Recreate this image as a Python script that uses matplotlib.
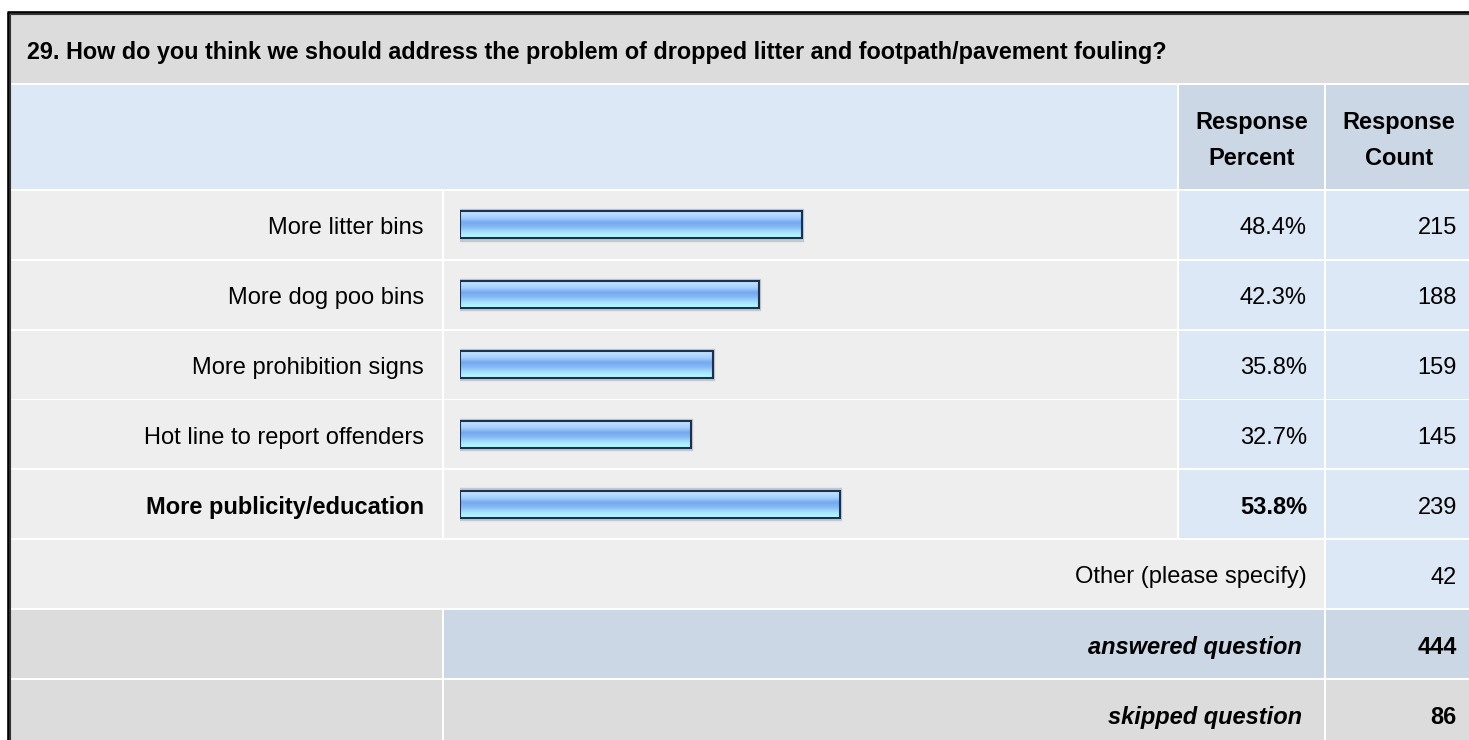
import numpy as np
import matplotlib
matplotlib.use("Agg")
import matplotlib.pyplot as plt
from matplotlib.patches import Rectangle
from matplotlib.colors import LinearSegmentedColormap

# Survey results
question = ("29. How do you think we should address the problem of dropped "
            "litter and footpath/pavement fouling?")
categories = ["More litter bins", "More dog poo bins", "More prohibition signs",
              "Hot line to report offenders", "More publicity/education"]
percents = [48.4, 42.3, 35.8, 32.7, 53.8]
counts = [215, 188, 159, 145, 239]
other_label = "Other (please specify)"
other_count = 42
answered = 444
skipped = 86

W, H = 1469, 740
FONT = "Liberation Sans"
FS = 17
DY = 3.5  # nudges the glyphs onto the row's optical centre

GREY_DARK = "#dcdcdc"
GREY_LIGHT = "#eeeeee"
BLUE_LIGHT = "#dce8f5"
BLUE_MID = "#cbd7e5"

fig = plt.figure(figsize=(W / 100, H / 100), dpi=100)
fig.patch.set_facecolor("white")
ax = fig.add_axes([0, 0, 1, 1])
ax.set_xlim(0, W)
ax.set_ylim(H, 0)
ax.axis("off")


def cell(x0, x1, y0, y1, color):
    ax.add_patch(Rectangle((x0, y0), x1 - x0, y1 - y0, facecolor=color,
                           edgecolor="none", zorder=1))


def txt(x, y, s, ha="right", weight="normal", style="normal", size=FS):
    ax.text(x, y + DY, s, ha=ha, va="center", fontsize=size, family=FONT,
            fontweight=weight, fontstyle=style, color="#000000", zorder=3)


# column boundaries (left edge, right edge of each cell)
X0 = 10
C_LABEL = (X0, 442)
C_BAR = (444, 1177)
C_PCT = (1179, 1324)
C_CNT = (1326, W + 5)

# title
cell(X0, W + 5, 14, 83, GREY_DARK)
txt(27, 48.5, question, ha="left", weight="bold", size=16.8)

# header
cell(X0, C_BAR[1], 85, 189, BLUE_LIGHT)
cell(C_PCT[0], C_PCT[1], 85, 189, BLUE_MID)
cell(C_CNT[0], C_CNT[1], 85, 189, BLUE_MID)
for cx, word in [((C_PCT[0] + C_PCT[1]) / 2, "Percent"),
                 ((C_CNT[0] + 1472) / 2, "Count")]:
    txt(cx, 119, "Response", ha="center", weight="bold")
    txt(cx, 155, word, ha="center", weight="bold")

ROW0 = 191
PITCH = 69.8
RH = 68
best = int(np.argmax(percents))

for i, (cat, p, c) in enumerate(zip(categories, percents, counts)):
    y0 = ROW0 + i * PITCH
    y1 = y0 + RH
    yc = (y0 + y1) / 2
    cell(*C_LABEL, y0, y1, GREY_LIGHT)
    cell(*C_BAR, y0, y1, GREY_LIGHT)
    cell(*C_PCT, y0, y1, BLUE_LIGHT)
    cell(*C_CNT, y0, y1, BLUE_LIGHT)
    w = "bold" if i == best else "normal"
    txt(424, yc, cat, weight=w)
    txt(1307, yc, f"{p:.1f}%", weight=w)
    txt(1457, yc, f"{c}")

# other row
i = len(categories)
y0 = ROW0 + i * PITCH
y1 = y0 + RH
yc = (y0 + y1) / 2
cell(X0, C_PCT[1], y0, y1, GREY_LIGHT)
cell(*C_CNT, y0, y1, BLUE_LIGHT)
txt(1307, yc, other_label)
txt(1457, yc, f"{other_count}")

# answered row
i += 1
y0 = ROW0 + i * PITCH
y1 = y0 + RH
yc = (y0 + y1) / 2
cell(*C_LABEL, y0, y1, GREY_DARK)
cell(C_BAR[0], C_PCT[1], y0, y1, BLUE_MID)
cell(*C_CNT, y0, y1, BLUE_MID)
txt(1302, yc, "answered question", weight="bold", style="italic")
txt(1457, yc, f"{answered}", weight="bold")

# skipped row
i += 1
y0 = ROW0 + i * PITCH
y1 = y0 + RH
yc = (y0 + y1) / 2
cell(*C_LABEL, y0, y1, GREY_DARK)
cell(C_BAR[0], C_PCT[1], y0, y1, GREY_DARK)
cell(*C_CNT, y0, y1, GREY_DARK)
txt(1302, yc, "skipped question", weight="bold", style="italic")
txt(1457, yc, f"{skipped}", weight="bold")

# outer frame (double line, left and top)
ax.plot([8, 8], [11.5, H + 5], color="#000000", lw=1.9, zorder=5,
        solid_capstyle="butt")
ax.plot([10.3, 10.3], [14, H + 5], color="#333333", lw=0.8, zorder=5,
        solid_capstyle="butt")
ax.plot([7, W + 5], [12, 12], color="#000000", lw=1.9, zorder=5,
        solid_capstyle="butt")
ax.plot([10, W + 5], [14.3, 14.3], color="#333333", lw=0.8, zorder=5,
        solid_capstyle="butt")

# bar chart area: 0..100 % spans 706 px starting at x=460
bx0, bx1 = 460, 1166
by0, by1 = ROW0 - 1, ROW0 - 1 + PITCH * len(categories)
axb = fig.add_axes([bx0 / W, 1 - by1 / H, (bx1 - bx0) / W, (by1 - by0) / H])
axb.patch.set_alpha(0)
axb.axis("off")

grad = LinearSegmentedColormap.from_list(
    "barfill",
    [(0.0, "#c8e4ff"), (0.25, "#a4cefe"), (0.42, "#74a8ee"),
     (0.58, "#84b8f4"), (0.8, "#a8e2ff"), (1.0, "#b8ffff")])
ypos = np.arange(len(categories))
bh = 27 / PITCH

halo = axb.barh(ypos, percents, height=bh * 1.09, left=0,
                color="none", edgecolor="#c4c8cf", linewidth=2.4, zorder=1)
bars = axb.barh(ypos, percents, height=bh, color="none",
                edgecolor="#1b3152", linewidth=1.5, zorder=3)
gimg = np.linspace(0, 1, 64).reshape(-1, 1)
for b in bars:
    x, y = b.get_x(), b.get_y()
    im = axb.imshow(gimg, cmap=grad, aspect="auto", interpolation="bilinear",
                    extent=(x, x + b.get_width(), y + b.get_height(), y),
                    zorder=2)
    im.set_clip_path(b)

axb.set_xlim(0, 100)
axb.set_ylim(len(categories) - 0.5, -0.5)

fig.savefig("out.png", dpi=100)
